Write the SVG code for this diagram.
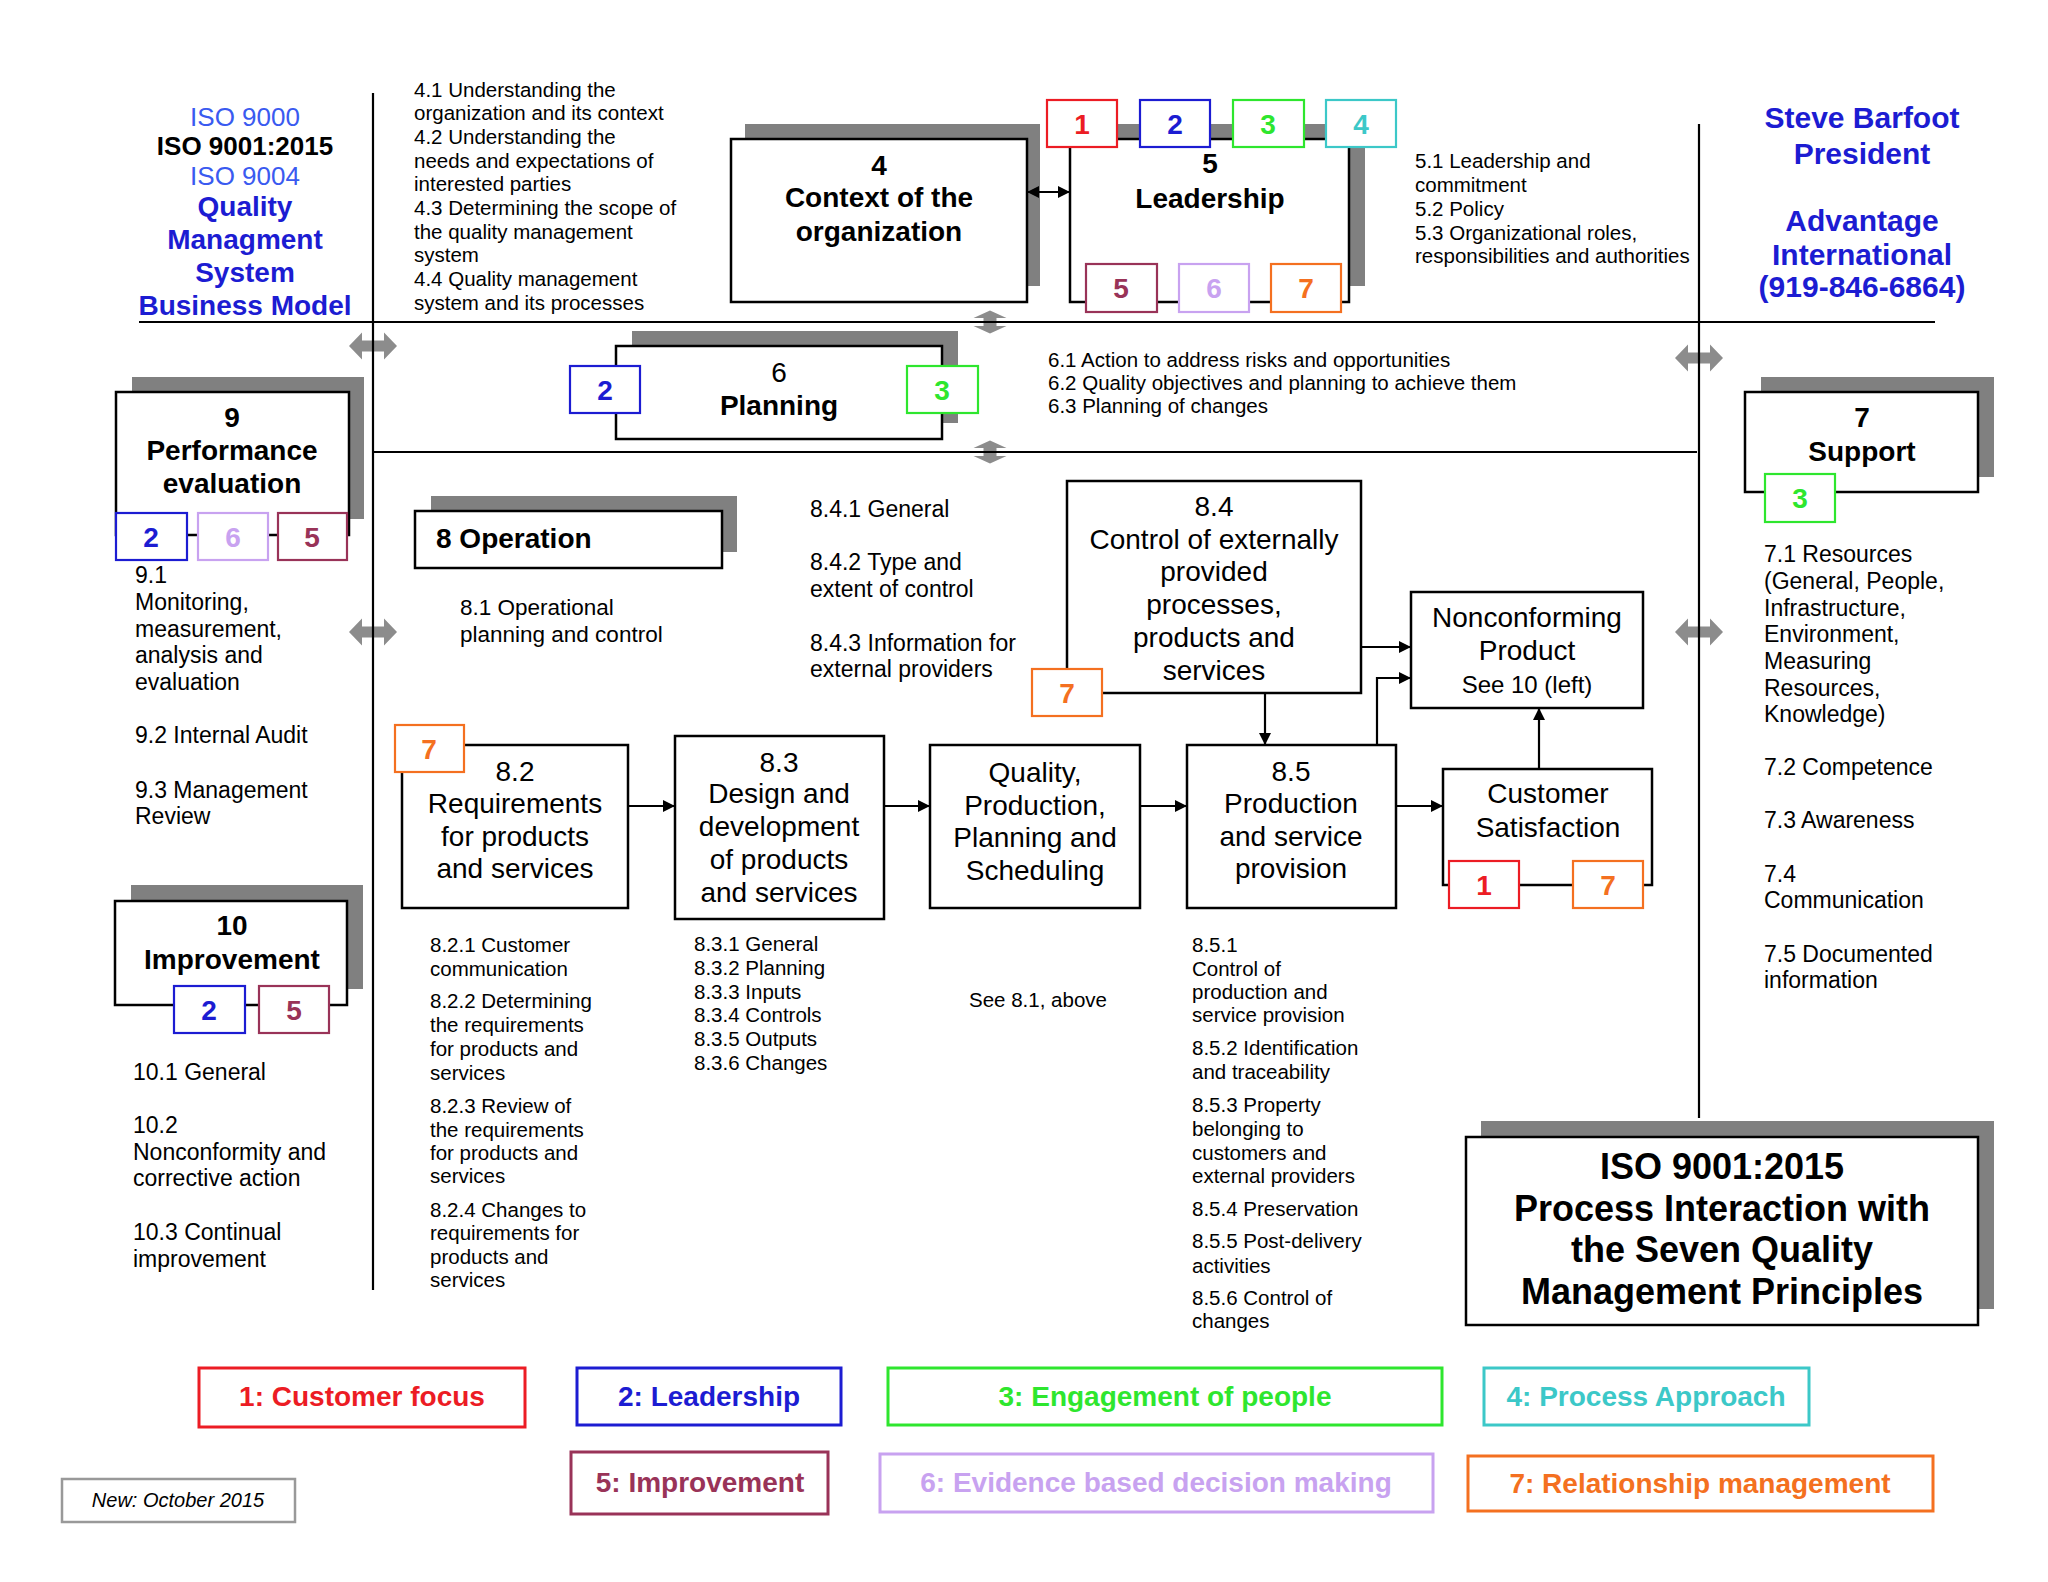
<svg xmlns="http://www.w3.org/2000/svg" width="2048" height="1582" viewBox="0 0 2048 1582">
<defs>
<style>
text{font-family:"Liberation Sans",Arial,Helvetica,sans-serif;fill:#000}
.bg{fill:#fff}
.sh{fill:#808080}
.box{fill:#fff;stroke:#000;stroke-width:2.5}
.ln{stroke:#000;stroke-width:2.2;fill:none}
.cn{stroke:#000;stroke-width:2.2;fill:none;marker-end:url(#ah)}
.ga{fill:#8c8c8c}
.sq{fill:#fff;stroke-width:2.2}
.lg{fill:#fff;stroke-width:3}
.s20{font-size:20.5px}
.s23{font-size:23px}
.r28{font-size:28px;text-anchor:middle}
.b28{font-size:28px;font-weight:bold;text-anchor:middle}
.num{font-size:28px;font-weight:bold;text-anchor:middle}
.c1{stroke:#ec1c24}.f1{fill:#ec1c24}
.c2{stroke:#1c1cd2}.f2{fill:#1c1cd2}
.c3{stroke:#2ee62e}.f3{fill:#2ee62e}
.c4{stroke:#3cc8c8}.f4{fill:#3cc8c8}
.c5{stroke:#993358}.f5{fill:#993358}
.c6{stroke:#c8a2f0}.f6{fill:#c8a2f0}
.c7{stroke:#f47020}.f7{fill:#f47020}
</style>
<marker id="ah" viewBox="0 0 12 12" refX="12" refY="6" markerWidth="12" markerHeight="12" markerUnits="userSpaceOnUse" orient="auto-start-reverse">
<path d="M0,0 L12,6 L0,12 z" fill="#000"/>
</marker>
<path id="hda" d="M-24,0 L-11,-13.5 L-11,-5.5 L11,-5.5 L11,-13.5 L24,0 L11,13.5 L11,5.5 L-11,5.5 L-11,13.5 Z"/>
<path id="vda" d="M0,-11.5 L16.5,-4 L6.5,-4 L6.5,4 L16.5,4 L0,11.5 L-16.5,4 L-6.5,4 L-6.5,-4 L-16.5,-4 Z"/>
</defs>
<rect class="bg" x="0" y="0" width="2048" height="1582"/>

<g id="gray-arrows" class="ga">
<use href="#hda" x="373" y="346"/>
<use href="#hda" x="373" y="632"/>
<use href="#hda" x="1699" y="358"/>
<use href="#hda" x="1699" y="632"/>
<use href="#vda" x="990" y="322"/>
<use href="#vda" x="990" y="452"/>
</g>

<g id="frame">
<path class="ln" d="M373,93 V1290"/>
<path class="ln" d="M139,322 H1935"/>
<path class="ln" d="M373,452 H1697"/>
<path class="ln" d="M1699,124 V1118"/>
</g>

<g id="header-left" font-size="26" text-anchor="middle">
<text x="245" y="126" fill="#3a5af0" style="fill:#3a5af0">ISO 9000</text>
<text x="245" y="155" font-weight="bold">ISO 9001:2015</text>
<text x="245" y="185" style="fill:#3a5af0">ISO 9004</text>
<g font-size="28" font-weight="bold">
<text x="245" y="216" class="f2">Quality</text>
<text x="245" y="249" class="f2">Managment</text>
<text x="245" y="282" class="f2">System</text>
<text x="245" y="315" class="f2">Business Model</text>
</g>
</g>

<g id="header-right" font-size="30" font-weight="bold" text-anchor="middle">
<text x="1862" y="128" class="f2">Steve Barfoot</text>
<text x="1862" y="164" class="f2">President</text>
<text x="1862" y="231" class="f2">Advantage</text>
<text x="1862" y="265" class="f2">International</text>
<text x="1862" y="297" class="f2">(919-846-6864)</text>
</g>

<g id="text-4" class="s20">
<text x="414" y="97">4.1 Understanding the</text>
<text x="414" y="120">organization and its context</text>
<text x="414" y="144">4.2 Understanding the</text>
<text x="414" y="168">needs and expectations of</text>
<text x="414" y="191">interested parties</text>
<text x="414" y="215">4.3 Determining the scope of</text>
<text x="414" y="239">the quality management</text>
<text x="414" y="262">system</text>
<text x="414" y="286">4.4 Quality management</text>
<text x="414" y="310">system and its processes</text>
</g>

<g id="node-4">
<rect class="sh" x="745" y="124" width="295" height="162"/>
<rect class="box" x="731" y="139" width="296" height="163"/>
<text class="b28" x="879" y="175">4</text>
<text class="b28" x="879" y="207">Context of the</text>
<text class="b28" x="879" y="241">organization</text>
</g>

<g id="node-5">
<rect class="sh" x="1085" y="124" width="280" height="162"/>
<rect class="box" x="1070" y="139" width="279" height="163"/>
<text class="b28" x="1210" y="173">5</text>
<text class="b28" x="1210" y="208">Leadership</text>
<rect class="sq c1" x="1047" y="100" width="70" height="47"/><text class="num f1" x="1082" y="134">1</text>
<rect class="sq c2" x="1140" y="100" width="70" height="47"/><text class="num f2" x="1175" y="134">2</text>
<rect class="sq c3" x="1233" y="100" width="71" height="47"/><text class="num f3" x="1268" y="134">3</text>
<rect class="sq c4" x="1326" y="100" width="70" height="47"/><text class="num f4" x="1361" y="134">4</text>
<rect class="sq c5" x="1086" y="264" width="71" height="48"/><text class="num f5" x="1121" y="298">5</text>
<rect class="sq c6" x="1179" y="264" width="70" height="48"/><text class="num f6" x="1214" y="298">6</text>
<rect class="sq c7" x="1271" y="264" width="70" height="48"/><text class="num f7" x="1306" y="298">7</text>
</g>

<g id="text-5" class="s20">
<text x="1415" y="168">5.1 Leadership and</text>
<text x="1415" y="192">commitment</text>
<text x="1415" y="216">5.2 Policy</text>
<text x="1415" y="240">5.3 Organizational roles,</text>
<text x="1415" y="263">responsibilities and authorities</text>
</g>

<g id="node-6">
<rect class="sh" x="632" y="331" width="326" height="92"/>
<rect class="box" x="616" y="346" width="326" height="93"/>
<text class="r28" x="779" y="382">6</text>
<text class="b28" x="779" y="415">Planning</text>
<rect class="sq c2" x="570" y="366" width="70" height="47"/><text class="num f2" x="605" y="400">2</text>
<rect class="sq c3" x="907" y="366" width="71" height="47"/><text class="num f3" x="942" y="400">3</text>
</g>

<g id="text-6" class="s20">
<text x="1048" y="367">6.1 Action to address risks and opportunities</text>
<text x="1048" y="390">6.2 Quality objectives and planning to achieve them</text>
<text x="1048" y="413">6.3 Planning of changes</text>
</g>

<g id="node-9">
<rect class="sh" x="132" y="377" width="232" height="142"/>
<rect class="box" x="116" y="392" width="233" height="143"/>
<text class="b28" x="232" y="427">9</text>
<text class="b28" x="232" y="460">Performance</text>
<text class="b28" x="232" y="493">evaluation</text>
<rect class="sq c2" x="116" y="513" width="71" height="47"/><text class="num f2" x="151" y="547">2</text>
<rect class="sq c6" x="198" y="513" width="70" height="47"/><text class="num f6" x="233" y="547">6</text>
<rect class="sq c5" x="278" y="513" width="69" height="47"/><text class="num f5" x="312" y="547">5</text>
</g>

<g id="text-9" class="s23">
<text x="135" y="583">9.1</text>
<text x="135" y="610">Monitoring,</text>
<text x="135" y="637">measurement,</text>
<text x="135" y="663">analysis and</text>
<text x="135" y="690">evaluation</text>
<text x="135" y="743">9.2 Internal Audit</text>
<text x="135" y="798">9.3 Management</text>
<text x="135" y="824">Review</text>
</g>

<g id="node-7">
<rect class="sh" x="1761" y="377" width="233" height="100"/>
<rect class="box" x="1745" y="392" width="233" height="100"/>
<text class="b28" x="1862" y="427">7</text>
<text class="b28" x="1862" y="461">Support</text>
<rect class="sq c3" x="1765" y="474" width="70" height="48"/><text class="num f3" x="1800" y="508">3</text>
</g>

<g id="text-7" class="s23">
<text x="1764" y="562">7.1 Resources</text>
<text x="1764" y="589">(General, People,</text>
<text x="1764" y="616">Infrastructure,</text>
<text x="1764" y="642">Environment,</text>
<text x="1764" y="669">Measuring</text>
<text x="1764" y="696">Resources,</text>
<text x="1764" y="722">Knowledge)</text>
<text x="1764" y="775">7.2 Competence</text>
<text x="1764" y="828">7.3 Awareness</text>
<text x="1764" y="882">7.4</text>
<text x="1764" y="908">Communication</text>
<text x="1764" y="962">7.5 Documented</text>
<text x="1764" y="988">information</text>
</g>

<g id="node-8">
<rect class="sh" x="431" y="496" width="306" height="56"/>
<rect class="box" x="415" y="511" width="307" height="57"/>
<text x="436" y="548" font-size="28" font-weight="bold">8 Operation</text>
</g>

<g id="text-8-1" font-size="22.5">
<text x="460" y="615">8.1 Operational</text>
<text x="460" y="642">planning and control</text>
</g>

<g id="text-8-4" class="s23">
<text x="810" y="517">8.4.1 General</text>
<text x="810" y="570">8.4.2 Type and</text>
<text x="810" y="597">extent of control</text>
<text x="810" y="651">8.4.3 Information for</text>
<text x="810" y="677">external providers</text>
</g>

<g id="node-8-4">
<rect class="box" x="1067" y="481" width="294" height="212"/>
<text class="r28" x="1214" y="516">8.4</text>
<text class="r28" x="1214" y="549">Control of externally</text>
<text class="r28" x="1214" y="581">provided</text>
<text class="r28" x="1214" y="614">processes,</text>
<text class="r28" x="1214" y="647">products and</text>
<text class="r28" x="1214" y="680">services</text>
<rect class="sq c7" x="1032" y="669" width="70" height="47"/><text class="num f7" x="1067" y="703">7</text>
</g>

<g id="node-nonconforming">
<rect class="box" x="1411" y="592" width="232" height="116"/>
<text class="r28" x="1527" y="627">Nonconforming</text>
<text class="r28" x="1527" y="660">Product</text>
<text x="1527" y="693" font-size="24" text-anchor="middle">See 10 (left)</text>
</g>

<g id="node-8-2">
<rect class="box" x="402" y="745" width="226" height="163"/>
<text class="r28" x="515" y="781">8.2</text>
<text class="r28" x="515" y="813">Requirements</text>
<text class="r28" x="515" y="846">for products</text>
<text class="r28" x="515" y="878">and services</text>
<rect class="sq c7" x="395" y="725" width="69" height="47"/><text class="num f7" x="429" y="759">7</text>
</g>

<g id="node-8-3">
<rect class="box" x="675" y="736" width="209" height="183"/>
<text class="r28" x="779" y="772">8.3</text>
<text class="r28" x="779" y="803">Design and</text>
<text class="r28" x="779" y="836">development</text>
<text class="r28" x="779" y="869">of products</text>
<text class="r28" x="779" y="902">and services</text>
</g>

<g id="node-quality">
<rect class="box" x="930" y="745" width="210" height="163"/>
<text class="r28" x="1035" y="782">Quality,</text>
<text class="r28" x="1035" y="815">Production,</text>
<text class="r28" x="1035" y="847">Planning and</text>
<text class="r28" x="1035" y="880">Scheduling</text>
</g>

<g id="node-8-5">
<rect class="box" x="1187" y="745" width="209" height="163"/>
<text class="r28" x="1291" y="781">8.5</text>
<text class="r28" x="1291" y="813">Production</text>
<text class="r28" x="1291" y="846">and service</text>
<text class="r28" x="1291" y="878">provision</text>
</g>

<g id="node-customer">
<rect class="box" x="1443" y="769" width="209" height="116"/>
<text class="r28" x="1548" y="803">Customer</text>
<text class="r28" x="1548" y="837">Satisfaction</text>
<rect class="sq c1" x="1449" y="861" width="70" height="47"/><text class="num f1" x="1484" y="895">1</text>
<rect class="sq c7" x="1573" y="861" width="70" height="47"/><text class="num f7" x="1608" y="895">7</text>
</g>

<g id="node-10">
<rect class="sh" x="131" y="885" width="232" height="104"/>
<rect class="box" x="115" y="901" width="232" height="104"/>
<text class="b28" x="232" y="935">10</text>
<text class="b28" x="232" y="969">Improvement</text>
<rect class="sq c2" x="174" y="986" width="71" height="47"/><text class="num f2" x="209" y="1020">2</text>
<rect class="sq c5" x="259" y="986" width="70" height="47"/><text class="num f5" x="294" y="1020">5</text>
</g>

<g id="text-10" class="s23">
<text x="133" y="1080">10.1 General</text>
<text x="133" y="1133">10.2</text>
<text x="133" y="1160">Nonconformity and</text>
<text x="133" y="1186">corrective action</text>
<text x="133" y="1240">10.3 Continual</text>
<text x="133" y="1267">improvement</text>
</g>

<g id="text-8-2" class="s20">
<text x="430" y="952">8.2.1 Customer</text>
<text x="430" y="976">communication</text>
<text x="430" y="1008">8.2.2 Determining</text>
<text x="430" y="1032">the requirements</text>
<text x="430" y="1056">for products and</text>
<text x="430" y="1080">services</text>
<text x="430" y="1113">8.2.3 Review of</text>
<text x="430" y="1137">the requirements</text>
<text x="430" y="1160">for products and</text>
<text x="430" y="1183">services</text>
<text x="430" y="1217">8.2.4 Changes to</text>
<text x="430" y="1240">requirements for</text>
<text x="430" y="1264">products and</text>
<text x="430" y="1287">services</text>
</g>

<g id="text-8-3" class="s20">
<text x="694" y="951">8.3.1 General</text>
<text x="694" y="975">8.3.2 Planning</text>
<text x="694" y="999">8.3.3 Inputs</text>
<text x="694" y="1022">8.3.4 Controls</text>
<text x="694" y="1046">8.3.5 Outputs</text>
<text x="694" y="1070">8.3.6 Changes</text>
</g>

<text id="text-see" class="s20" x="1038" y="1007" text-anchor="middle">See 8.1, above</text>

<g id="text-8-5" class="s20">
<text x="1192" y="952">8.5.1</text>
<text x="1192" y="976">Control of</text>
<text x="1192" y="999">production and</text>
<text x="1192" y="1022">service provision</text>
<text x="1192" y="1055">8.5.2 Identification</text>
<text x="1192" y="1079">and traceability</text>
<text x="1192" y="1112">8.5.3 Property</text>
<text x="1192" y="1136">belonging to</text>
<text x="1192" y="1160">customers and</text>
<text x="1192" y="1183">external providers</text>
<text x="1192" y="1216">8.5.4 Preservation</text>
<text x="1192" y="1248">8.5.5 Post-delivery</text>
<text x="1192" y="1273">activities</text>
<text x="1192" y="1305">8.5.6 Control of</text>
<text x="1192" y="1328">changes</text>
</g>

<g id="connectors">
<path class="cn" d="M1027,192 H1070" marker-start="url(#ah)"/>
<path class="cn" d="M628,806 H675"/>
<path class="cn" d="M884,806 H930"/>
<path class="cn" d="M1140,806 H1187"/>
<path class="cn" d="M1396,806 H1443"/>
<path class="cn" d="M1265,693 V745"/>
<path class="cn" d="M1361,647 H1411"/>
<path class="cn" d="M1377,745 V678 H1411"/>
<path class="cn" d="M1539,769 V708"/>
</g>

<g id="node-title">
<rect class="sh" x="1481" y="1121" width="513" height="188"/>
<rect class="box" x="1466" y="1137" width="512" height="188"/>
<g font-size="36" font-weight="bold" text-anchor="middle">
<text x="1722" y="1179">ISO 9001:2015</text>
<text x="1722" y="1221">Process Interaction with</text>
<text x="1722" y="1262">the Seven Quality</text>
<text x="1722" y="1304">Management Principles</text>
</g>
</g>

<g id="legend" font-size="28" font-weight="bold" text-anchor="middle">
<g id="legend-1"><rect class="lg c1" x="199" y="1368" width="326" height="59"/><text class="f1" x="362" y="1406">1: Customer focus</text></g>
<g id="legend-2"><rect class="lg c2" x="577" y="1368" width="264" height="57"/><text class="f2" x="709" y="1406">2: Leadership</text></g>
<g id="legend-3"><rect class="lg c3" x="888" y="1368" width="554" height="57"/><text class="f3" x="1165" y="1406">3: Engagement of people</text></g>
<g id="legend-4"><rect class="lg c4" x="1484" y="1368" width="325" height="57"/><text class="f4" x="1646" y="1406">4: Process Approach</text></g>
<g id="legend-5"><rect class="lg c5" x="571" y="1452" width="257" height="62"/><text class="f5" x="700" y="1492">5: Improvement</text></g>
<g id="legend-6"><rect class="lg c6" x="880" y="1454" width="553" height="58"/><text class="f6" x="1156" y="1492">6: Evidence based decision making</text></g>
<g id="legend-7"><rect class="lg c7" x="1468" y="1456" width="465" height="55"/><text class="f7" x="1700" y="1493">7: Relationship management</text></g>
</g>

<g id="note">
<rect x="62" y="1479" width="233" height="43" fill="#fff" stroke="#999" stroke-width="2.5"/>
<text x="178" y="1507" font-size="20" font-style="italic" text-anchor="middle">New: October 2015</text>
</g>
</svg>
